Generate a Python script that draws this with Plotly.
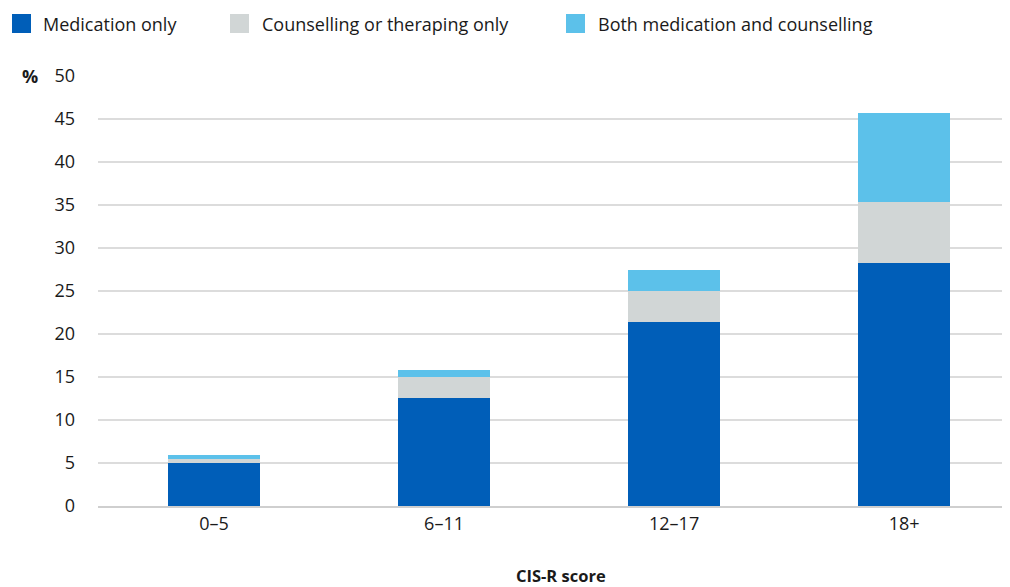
import plotly.graph_objects as go

categories = ["0–5", "6–11", "12–17", "18+"]
medication_only = [5.05, 12.6, 21.4, 28.2]
counselling_only = [0.45, 2.4, 3.6, 7.1]
both = [0.4, 0.8, 2.4, 10.4]
series_names = ["Medication only", "Counselling or theraping only", "Both medication and counselling"]
series_colors = ["#005EB8", "#D1D6D6", "#5CC1EA"]
y_ticks = [0, 5, 10, 15, 20, 25, 30, 35, 40, 45, 50]

# page body has an 8px default margin; work in page pixels and offset
OFF = 8
W, H = 1010, 587 - OFF
ML, MR, MT, MB = 98 - OFF, OFF, 76 - OFF, 81
PW, PH = W - ML - MR, H - MT - MB

def px_x(p):
    return (p - OFF - ML) / PW

def px_y(p):
    return (H - MB - (p - OFF)) / PH

FONT = "Open Sans"
TXT = "#1a1a1a"

fig = go.Figure()
for name, vals, col in zip(series_names, [medication_only, counselling_only, both], series_colors):
    fig.add_trace(go.Bar(
        x=categories, y=vals, name=name, marker_color=col,
        marker_line_width=0, width=0.4, showlegend=False,
    ))

shapes = []
annotations = []
legend_sq_x = [12, 230, 566]
legend_txt_x = [41, 260, 596]
for i, (name, col) in enumerate(zip(series_names, series_colors)):
    shapes.append(dict(type="rect", xref="paper", yref="paper",
                       x0=px_x(legend_sq_x[i]), x1=px_x(legend_sq_x[i] + 19),
                       y0=px_y(33), y1=px_y(14), fillcolor=col, line_width=0))
    annotations.append(dict(text=name, xref="paper", yref="paper",
                            x=px_x(legend_txt_x[i]), y=px_y(23.5), xanchor="left", yanchor="middle",
                            showarrow=False, font=dict(family=FONT, size=18, color=TXT)))

annotations.append(dict(text="<b>%</b>", xref="paper", yref="paper",
                        x=px_x(30), y=px_y(76), xanchor="center", yanchor="middle",
                        showarrow=False, font=dict(family=FONT, size=18, color=TXT)))
annotations.append(dict(text="<b>CIS-R score</b>", xref="paper", yref="paper",
                        x=px_x(561), y=px_y(575), xanchor="center", yanchor="middle",
                        showarrow=False, font=dict(family=FONT, size=16.5, color=TXT)))

fig.update_layout(
    width=W, height=H,
    margin=dict(l=ML, r=MR, t=MT, b=MB, pad=0),
    barmode="stack",
    plot_bgcolor="white", paper_bgcolor="white",
    font=dict(family=FONT, size=18, color=TXT),
    shapes=shapes, annotations=annotations,
    showlegend=False,
    xaxis=dict(type="category", range=[-0.504, 3.46], showgrid=False, ticks="",
               showline=True, linecolor="#cfcfcf", linewidth=1.5,
               tickfont=dict(family=FONT, size=18, color=TXT), ticklabelstandoff=1),
    yaxis=dict(range=[0, 50], tickvals=y_ticks, showgrid=True, gridcolor="#dcdcdc", gridwidth=1.5,
               zeroline=False, showline=False, ticks="",
               tickfont=dict(family=FONT, size=18, color=TXT), ticklabelstandoff=22),
)

fig.write_html("out.html")
